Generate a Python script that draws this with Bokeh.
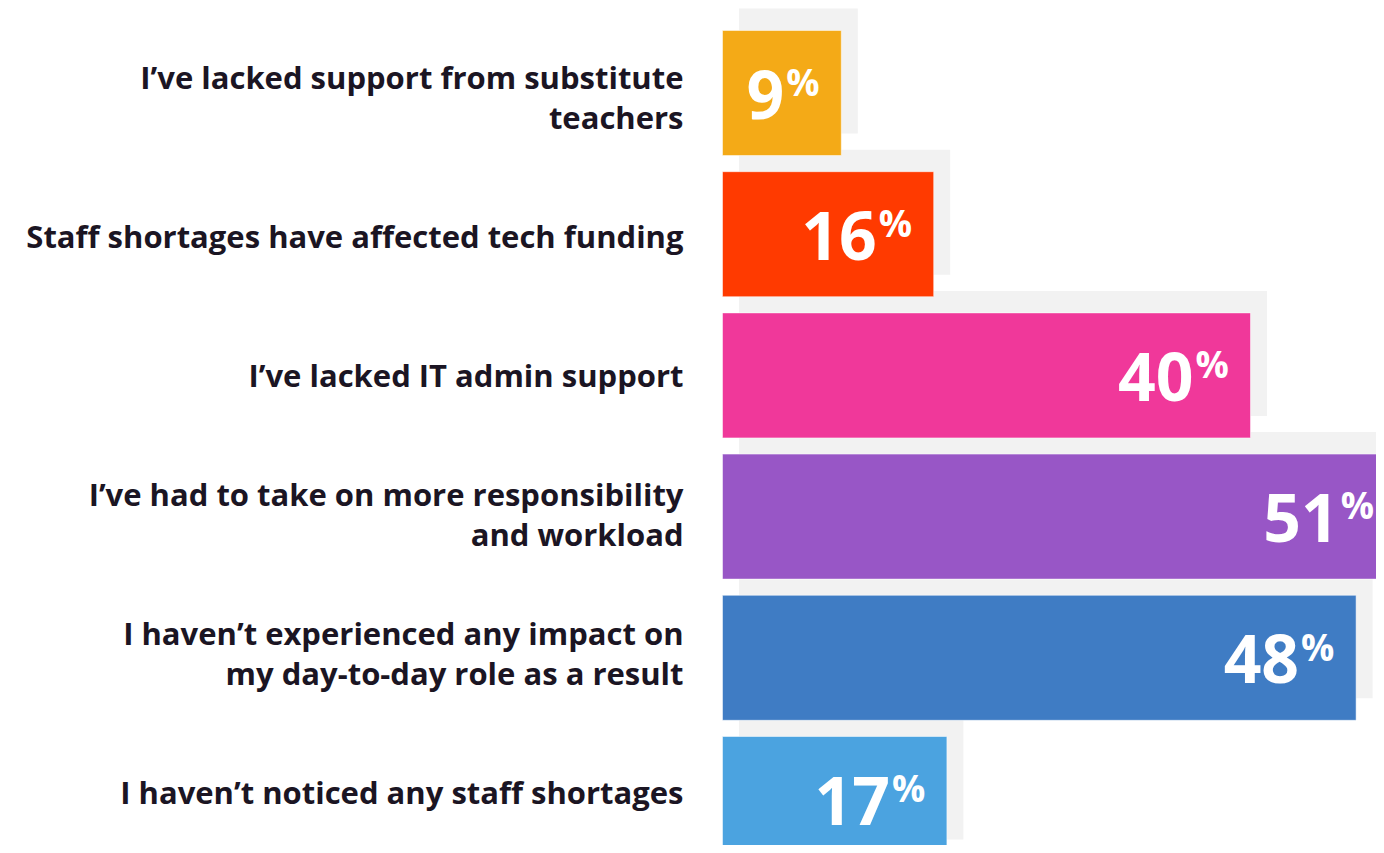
from bokeh.plotting import figure
from bokeh.models import Range1d, ColumnDataSource
from bokeh.core.properties import value
from bokeh.embed import file_html
from bokeh.resources import INLINE

# ---- data ----
labels = [
    "I’ve lacked support from substitute\nteachers",
    "Staff shortages have affected tech funding",
    "I’ve lacked IT admin support",
    "I’ve had to take on more responsibility\nand workload",
    "I haven’t experienced any impact on\nmy day-to-day role as a result",
    "I haven’t noticed any staff shortages",
]
values = [9, 16, 40, 51, 48, 17]
colors = ["#F4AA17", "#FF3A00", "#F0389A", "#9856C6", "#3F7CC4", "#4BA3E0"]

# ---- layout constants (pixels) ----
W, H = 1376, 845
PX_PER_PCT = 13.2
BAR_X0 = 722          # px where 0% sits
ROW0 = 92.5           # center of first bar (px from top)
PITCH = 141.2
BAR_H = 125
SH_DX = 16.5 / PX_PER_PCT
SH_DY = -22
LABEL_ROW0 = 109      # label anchor of first row
LABEL_PITCH = 139
LINE_H = 40
LABEL_COLOR = "#1b1523"
LABEL_FS = 31
NUM_FS = 66
PCT_FS = 37
BASE_K = 0.40         # baseline correction (fraction of font size)

centers = [ROW0 + i * PITCH for i in range(len(values))]

bars = ColumnDataSource(dict(
    left=[0] * len(values),
    right=values,
    top=[c - BAR_H / 2 for c in centers],
    bottom=[c + BAR_H / 2 for c in centers],
    color=colors,
))
shadows = ColumnDataSource(dict(
    left=[SH_DX] * len(values),
    right=[v + SH_DX for v in values],
    top=[c - BAR_H / 2 + SH_DY for c in centers],
    bottom=[c + BAR_H / 2 + SH_DY for c in centers],
))

lx, ly, lt = [], [], []
for i, lab in enumerate(labels):
    anchor = LABEL_ROW0 + i * LABEL_PITCH
    lines = lab.split("\n")
    first = anchor - (len(lines) - 1) * LINE_H / 2
    for k, ln in enumerate(lines):
        lx.append(0)
        ly.append(first + LINE_H * k - BASE_K * LABEL_FS)
        lt.append(ln)
label_src = ColumnDataSource(dict(x=lx, y=ly, text=lt))

num_src = ColumnDataSource(dict(
    x=values,
    y=[c + 28 - BASE_K * NUM_FS for c in centers],
    text=[str(v) for v in values],
))
pct_src = ColumnDataSource(dict(
    x=values,
    y=[c + 3 - BASE_K * PCT_FS for c in centers],
    text=["%"] * len(values),
))

p = figure(
    width=W, height=H,
    x_range=Range1d(-BAR_X0 / PX_PER_PCT, (W - BAR_X0) / PX_PER_PCT),
    y_range=Range1d(H, 0),
    x_axis_location=None, y_axis_location=None,
    toolbar_location=None, output_backend="svg",
    min_border=0, outline_line_color=None,
    background_fill_color="white", border_fill_color="white",
)
p.xgrid.visible = False
p.ygrid.visible = False

p.quad(left="left", right="right", top="top", bottom="bottom", source=shadows,
       fill_color="#f2f2f2", line_color=None)
p.quad(left="left", right="right", top="top", bottom="bottom", source=bars,
       fill_color="color", line_color="white", line_alpha=0.5, line_width=1)

p.text(x="x", y="y", text="text", source=label_src,
       text_font=value("Open Sans"), text_font_style="bold",
       text_font_size=f"{LABEL_FS}px", text_color=LABEL_COLOR,
       text_align="right", text_baseline="alphabetic", x_offset=-39)

p.text(x="x", y="y", text="text", source=num_src,
       text_font=value("Open Sans"), text_font_style="bold",
       text_font_size=f"{NUM_FS}px", text_color="white",
       text_align="right", text_baseline="alphabetic", x_offset=-57)

p.text(x="x", y="y", text="text", source=pct_src,
       text_font=value("Open Sans"), text_font_style="bold",
       text_font_size=f"{PCT_FS}px", text_color="white",
       text_align="left", text_baseline="alphabetic", x_offset=-55)

open("out.html", "w").write(file_html(p, INLINE))
